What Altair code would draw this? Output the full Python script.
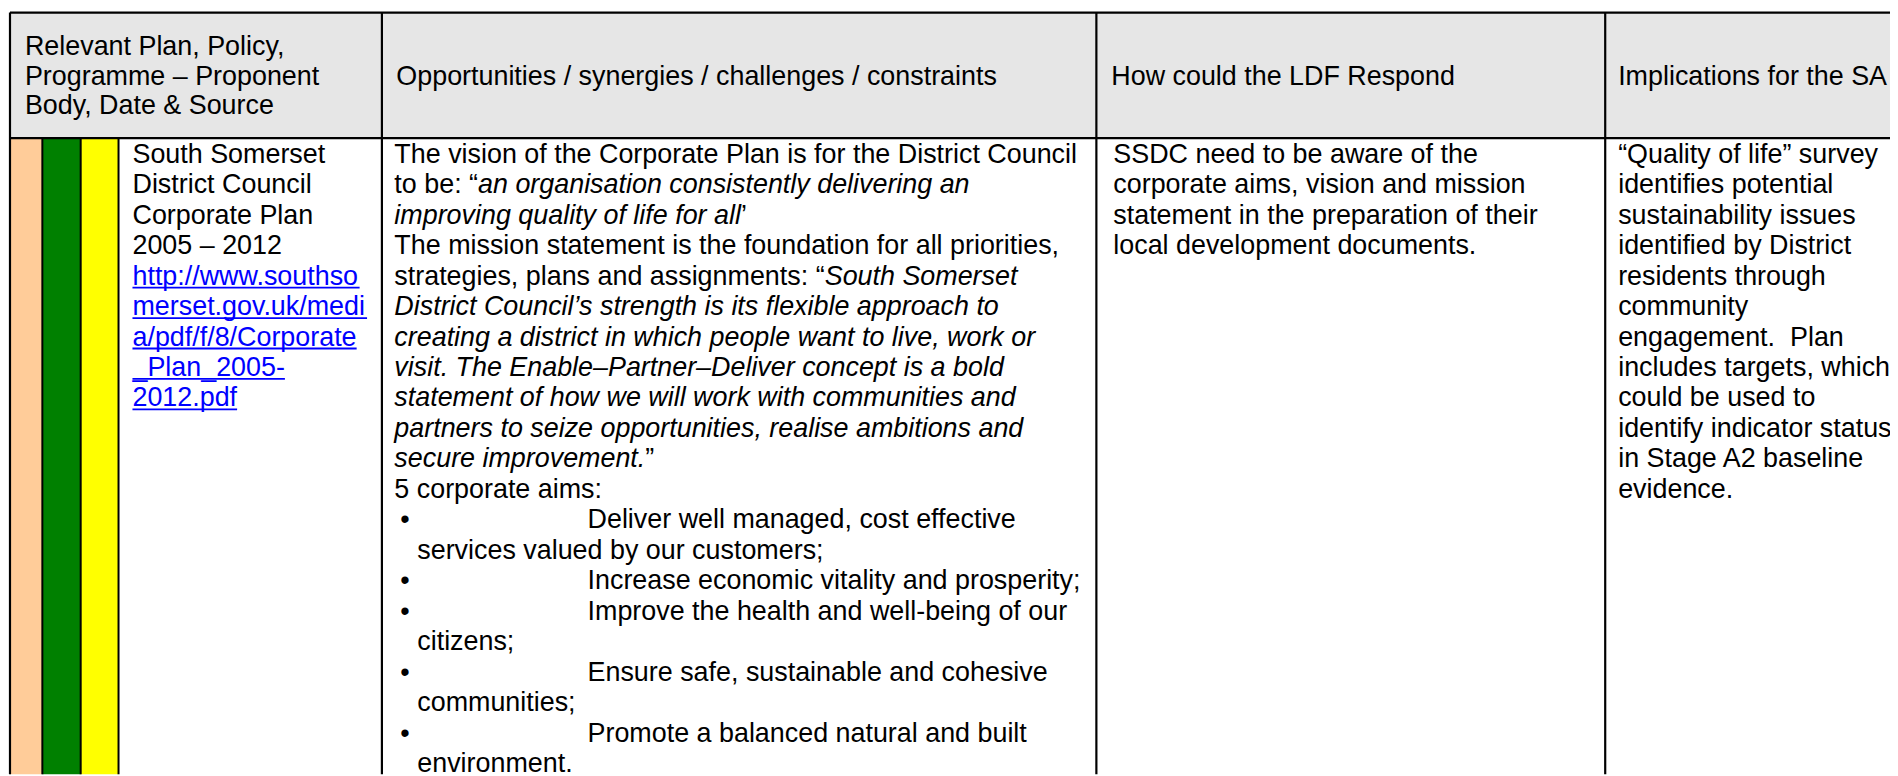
import altair as alt
import pandas as pd

# ---------------- content ----------------
header_col1 = ["Relevant Plan, Policy,", "Programme – Proponent", "Body, Date & Source"]
header_col2 = ["Opportunities / synergies / challenges / constraints"]
header_col3 = ["How could the LDF Respond"]
header_col4 = ["Implications for the SA"]

strip_colors = ["#FFCC99", "#008000", "#FFFF00"]

plan_lines = ["South Somerset", "District Council", "Corporate Plan", "2005 – 2012"]
link_lines = ["http://www.southso", "merset.gov.uk/medi", "a/pdf/f/8/Corporate",
              "_Plan_2005-", "2012.pdf"]

# each line: list of (text, style) segments; "n" normal, "i" italic
opportunity_lines = [
    [("The vision of the Corporate Plan is for the District Council", "n")],
    [("to be: “", "n"), ("an organisation consistently delivering an", "i")],
    [("improving quality of life for all", "i"), ("’", "n")],
    [("The mission statement is the foundation for all priorities,", "n")],
    [("strategies, plans and assignments: “", "n"), ("South Somerset", "i")],
    [("District Council’s strength is its flexible approach to", "i")],
    [("creating a district in which people want to live, work or", "i")],
    [("visit. The Enable–Partner–Deliver concept is a bold", "i")],
    [("statement of how we will work with communities and", "i")],
    [("partners to seize opportunities, realise ambitions and", "i")],
    [("secure improvement.", "i"), ("”", "n")],
    [("5 corporate aims:", "n")],
]
corporate_aims = [
    ["Deliver well managed, cost effective", "services valued by our customers;"],
    ["Increase economic vitality and prosperity;"],
    ["Improve the health and well-being of our", "citizens;"],
    ["Ensure safe, sustainable and cohesive", "communities;"],
    ["Promote a balanced natural and built", "environment."],
]
respond_lines = ["SSDC need to be aware of the", "corporate aims, vision and mission",
                 "statement in the preparation of their", "local development documents."]
implication_lines = ["“Quality of life” survey", "identifies potential", "sustainability issues",
                     "identified by District", "residents through", "community",
                     "engagement.\u00a0 Plan", "includes targets, which", "could be used to",
                     "identify indicator status", "in Stage A2 baseline", "evidence."]

# ---------------- layout ----------------
FONT = "Liberation Sans, Arial, sans-serif"
FS = 27
LH = 30.6
W, H = 1890, 768
OFF = 8  # page margin

def c(v):
    return v - OFF

# Arial / Helvetica advance widths (per 1000 em), used to place mixed-style runs
_w = {}
for chars, wd in [(" !,./:;I[]\\ft", 278), ("ijl’‘", 222), ("()-`r“”", 333), ('"', 355),
                  ("'", 191), ("Jckvxyzs", 500), ("0123456789$#?L_abdeghnopqu–", 556),
                  ("+<=>~", 584), ("FTZ", 611), ("&ABEKPSVXY", 667), ("CDHNRUw", 722),
                  ("GOQ", 778), ("Mm", 833), ("%", 889), ("W", 944), ("@", 1015), ("•", 350)]:
    for ch in chars:
        _w[ch] = wd

def tw(s):
    return sum(_w.get(ch, 556) for ch in s) * FS / 1000.0

TOP, HDR_BOT = 11, 137
COL_EDGES = [10, 383.5, 1101, 1612]
STRIP_EDGES = [10, 42.5, 81, 119]
BODY_C0 = 152          # centre of first body line
HDR_C = 73.5           # centre of header block
BASE = 0.36 * FS       # centre -> baseline

def body_base(i):
    return BODY_C0 + i * LH + BASE

# ---------------- tables built from the arrays ----------------
rects = [dict(x=c(COL_EDGES[0]), x2=W, y=c(TOP), y2=c(HDR_BOT), fill="#E6E6E6")]
for k, col in enumerate(strip_colors):
    rects.append(dict(x=c(STRIP_EDGES[k]), x2=c(STRIP_EDGES[k + 1]), y=c(HDR_BOT), y2=H, fill=col))
rect_df = pd.DataFrame(rects)

rules = [dict(x=c(COL_EDGES[0]), x2=W, y=c(TOP), y2=c(TOP), w=2.4),
         dict(x=c(COL_EDGES[0]), x2=W, y=c(HDR_BOT), y2=c(HDR_BOT), w=2.2)]
for e in COL_EDGES:
    rules.append(dict(x=c(e), x2=c(e), y=c(TOP), y2=H, w=2.2))
for e in STRIP_EDGES[1:]:
    rules.append(dict(x=c(e), x2=c(e), y=c(HDR_BOT), y2=H, w=2.0))
rule_df = pd.DataFrame(rules)

normal, italic, links, underl = [], [], [], []

# headers
for j, t in enumerate(header_col1):
    normal.append(dict(x=c(25), y=c(HDR_C + (j - 1) * 30 + BASE), text=t, color="#000000"))
for xh, lines in [(398, header_col2), (1116, header_col3), (1625, header_col4)]:
    normal.append(dict(x=c(xh), y=c(HDR_C + BASE), text=lines[0], color="#000000"))

# column 1
X1 = 133
for i, t in enumerate(plan_lines):
    normal.append(dict(x=c(X1), y=c(body_base(i)), text=t, color="#000000"))
for k, t in enumerate(link_lines):
    i = len(plan_lines) + k
    links.append(dict(x=c(X1), y=c(body_base(i)), text=t, color="#0000FF"))
    yb = c(body_base(i) + 3)
    underl.append(dict(x=c(X1), x2=c(X1 + tw(t)), y=yb, y2=yb, w=1.8))
ul_df = pd.DataFrame(underl)

# column 2
X2 = 396
for i, segs in enumerate(opportunity_lines):
    xx = X2
    for t, st in segs:
        row = dict(x=c(xx), y=c(body_base(i)), text=t, color="#000000")
        (italic if st == "i" else normal).append(row)
        xx += tw(t)
i = len(opportunity_lines)
for aim in corporate_aims:
    normal.append(dict(x=c(402), y=c(body_base(i)), text="•", color="#000000"))
    normal.append(dict(x=c(590), y=c(body_base(i)), text=aim[0], color="#000000"))
    i += 1
    for t in aim[1:]:
        normal.append(dict(x=c(419), y=c(body_base(i)), text=t, color="#000000"))
        i += 1

# column 3 and 4
for i, t in enumerate(respond_lines):
    normal.append(dict(x=c(1118), y=c(body_base(i)), text=t, color="#000000"))
for i, t in enumerate(implication_lines):
    normal.append(dict(x=c(1625), y=c(body_base(i)), text=t, color="#000000"))

normal_df = pd.DataFrame(normal)
italic_df = pd.DataFrame(italic)
link_df = pd.DataFrame(links)

# ---------------- chart ----------------
xs = alt.Scale(domain=[0, W], range=[0, W], nice=False, zero=False)
ys = alt.Scale(domain=[0, H], range=[0, H], nice=False, zero=False)

def X(f="x"):
    return alt.X(f"{f}:Q", scale=xs, axis=None)

def Y(f="y"):
    return alt.Y(f"{f}:Q", scale=ys, axis=None)

rect_layer = alt.Chart(rect_df).mark_rect(strokeWidth=0).encode(
    x=X(), x2="x2:Q", y=Y(), y2="y2:Q", fill=alt.Fill("fill:N", scale=None))

rule_layer = alt.Chart(rule_df).mark_rule(color="#000000").encode(
    x=X(), x2="x2:Q", y=Y(), y2="y2:Q", strokeWidth=alt.StrokeWidth("w:Q", scale=None))

ul_layer = alt.Chart(ul_df).mark_rule(color="#0000FF").encode(
    x=X(), x2="x2:Q", y=Y(), y2="y2:Q", strokeWidth=alt.StrokeWidth("w:Q", scale=None))

def text_layer(df, style):
    return alt.Chart(df).mark_text(align="left", baseline="alphabetic", font=FONT,
                                   fontSize=FS, fontStyle=style).encode(
        x=X(), y=Y(), text="text:N", color=alt.Color("color:N", scale=None))

chart = alt.layer(
    rect_layer, rule_layer,
    text_layer(normal_df, "normal"), text_layer(italic_df, "italic"),
    text_layer(link_df, "normal"), ul_layer,
).properties(
    width=W, height=H, padding=0, background="#FFFFFF",
    autosize=alt.AutoSizeParams(type="none"),
).configure_view(stroke=None)

chart.save("out.html", embed_options={"renderer": "svg", "actions": False})
